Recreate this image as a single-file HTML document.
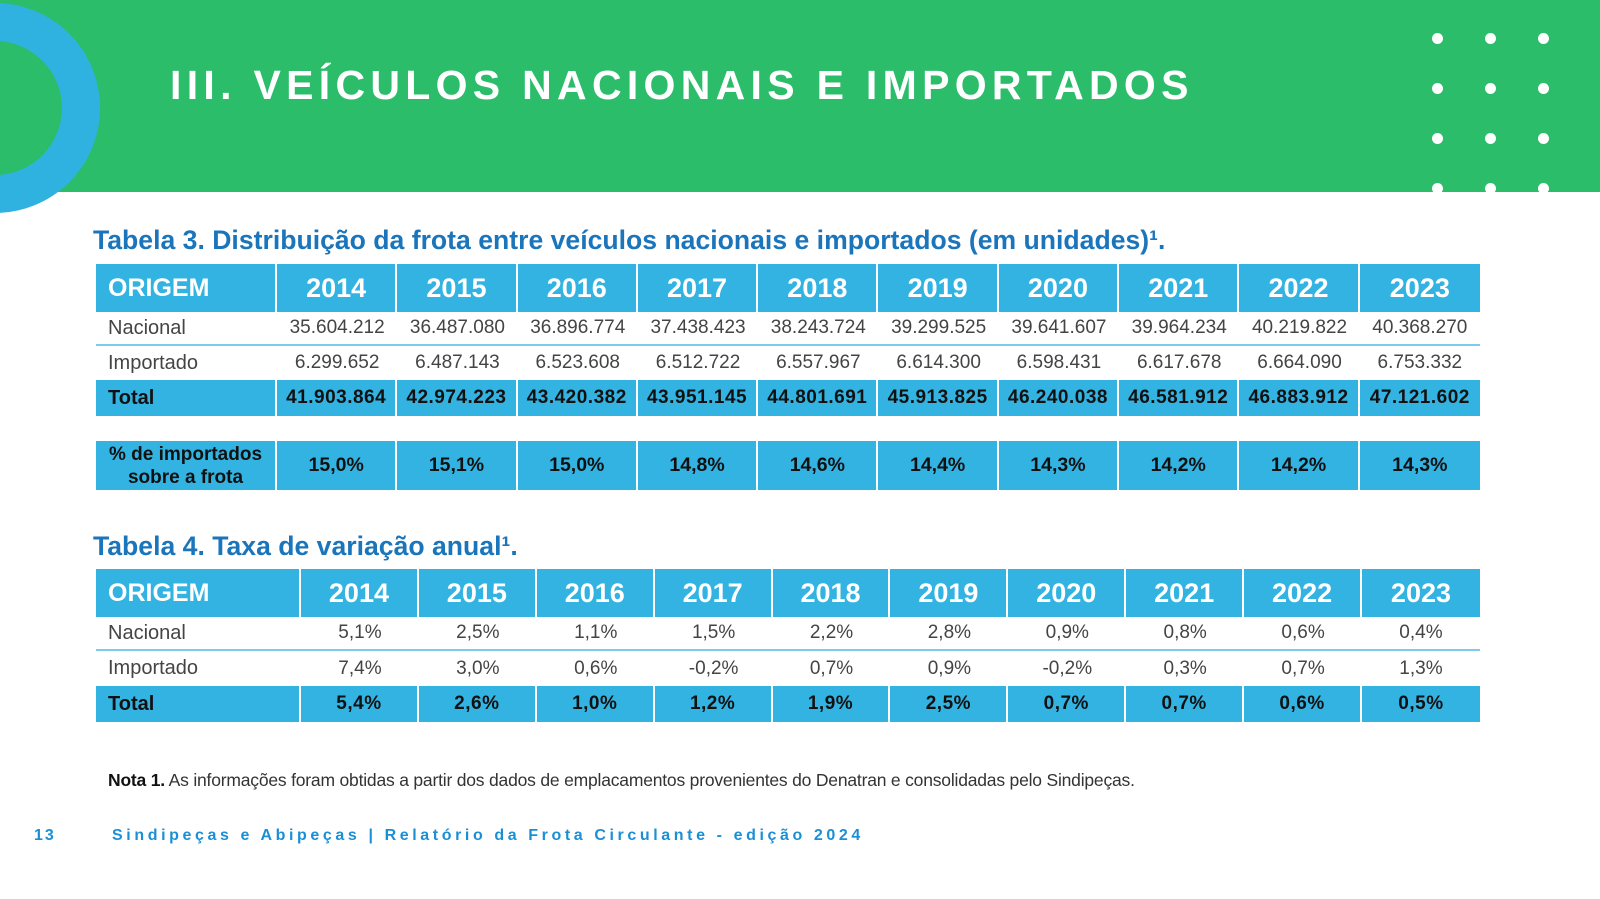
<!DOCTYPE html>
<html><head><meta charset="utf-8"><style>
*{margin:0;padding:0;box-sizing:border-box}
body{width:1600px;height:899px;background:#fff;position:relative;overflow:hidden;font-family:"Liberation Sans",sans-serif}
.band{position:absolute;left:0;top:0;width:1600px;height:192px;background:#2bbd6a}
.ring{position:absolute;left:-110px;top:3px;width:210px;height:210px;border-radius:50%;border:38px solid #30b2e1}
.dot{position:absolute;width:11px;height:11px;border-radius:50%;background:#fff}
.h1{position:absolute;left:170px;top:62px;color:#fff;font-weight:bold;font-size:41px;letter-spacing:5.3px;white-space:nowrap}
.cap{position:absolute;left:93px;color:#1b75bb;font-weight:bold;font-size:26.6px;white-space:nowrap}
.row{position:absolute;left:96px;width:1384px;display:flex}
.row div{display:flex;align-items:center;justify-content:center;white-space:nowrap}
.blue div{background:#33b3e2;border-right:2px solid #fff}
.blue div:last-child{border-right:none}
.hd div{color:#fff;font-weight:bold;font-size:27px}
.hd div:first-child{justify-content:flex-start;padding-left:12px;font-size:25px}
.pl div{color:#444;font-size:19px;border-bottom:2px solid #7dcbee}
.pl div:first-child{justify-content:flex-start;padding-left:12px;font-size:20px}
.tot div{color:#111;font-weight:bold;font-size:19px;letter-spacing:0.5px}
.tot div:first-child{justify-content:flex-start;padding-left:12px;font-size:20px;letter-spacing:0}
.pct div{color:#111;font-weight:bold;font-size:19.5px}
.pct div:first-child{font-size:19px;line-height:23px;text-align:center}
</style></head><body>
<div class="band"></div>
<div class="ring"></div>
<div class="dot" style="left:1432px;top:33px"></div><div class="dot" style="left:1485px;top:33px"></div><div class="dot" style="left:1538px;top:33px"></div>
<div class="dot" style="left:1432px;top:83px"></div><div class="dot" style="left:1485px;top:83px"></div><div class="dot" style="left:1538px;top:83px"></div>
<div class="dot" style="left:1432px;top:133px"></div><div class="dot" style="left:1485px;top:133px"></div><div class="dot" style="left:1538px;top:133px"></div>
<div class="dot" style="left:1432px;top:183px"></div><div class="dot" style="left:1485px;top:183px"></div><div class="dot" style="left:1538px;top:183px"></div>
<div class="h1">III. VEÍCULOS NACIONAIS E IMPORTADOS</div>

<div class="cap" style="top:225px">Tabela 3. Distribuição da frota entre veículos nacionais e importados (em unidades)¹.</div>
<div class="row blue hd" style="top:264px;height:48px"><div style="width:181px">ORIGEM</div><div style="width:120.3px">2014</div><div style="width:120.3px">2015</div><div style="width:120.3px">2016</div><div style="width:120.3px">2017</div><div style="width:120.3px">2018</div><div style="width:120.3px">2019</div><div style="width:120.3px">2020</div><div style="width:120.3px">2021</div><div style="width:120.3px">2022</div><div style="width:120.3px">2023</div></div>
<div class="row pl" style="top:312px;height:34px"><div style="width:181px">Nacional</div><div style="width:120.3px">35.604.212</div><div style="width:120.3px">36.487.080</div><div style="width:120.3px">36.896.774</div><div style="width:120.3px">37.438.423</div><div style="width:120.3px">38.243.724</div><div style="width:120.3px">39.299.525</div><div style="width:120.3px">39.641.607</div><div style="width:120.3px">39.964.234</div><div style="width:120.3px">40.219.822</div><div style="width:120.3px">40.368.270</div></div>
<div class="row pl" style="top:346px;height:34px"><div style="width:181px;border-bottom:none">Importado</div><div style="width:120.3px;border-bottom:none">6.299.652</div><div style="width:120.3px;border-bottom:none">6.487.143</div><div style="width:120.3px;border-bottom:none">6.523.608</div><div style="width:120.3px;border-bottom:none">6.512.722</div><div style="width:120.3px;border-bottom:none">6.557.967</div><div style="width:120.3px;border-bottom:none">6.614.300</div><div style="width:120.3px;border-bottom:none">6.598.431</div><div style="width:120.3px;border-bottom:none">6.617.678</div><div style="width:120.3px;border-bottom:none">6.664.090</div><div style="width:120.3px;border-bottom:none">6.753.332</div></div>
<div class="row blue tot" style="top:380px;height:36px"><div style="width:181px">Total</div><div style="width:120.3px">41.903.864</div><div style="width:120.3px">42.974.223</div><div style="width:120.3px">43.420.382</div><div style="width:120.3px">43.951.145</div><div style="width:120.3px">44.801.691</div><div style="width:120.3px">45.913.825</div><div style="width:120.3px">46.240.038</div><div style="width:120.3px">46.581.912</div><div style="width:120.3px">46.883.912</div><div style="width:120.3px">47.121.602</div></div>
<div class="row blue pct" style="top:441px;height:49px"><div style="width:181px">% de importados<br>sobre a frota</div><div style="width:120.3px">15,0%</div><div style="width:120.3px">15,1%</div><div style="width:120.3px">15,0%</div><div style="width:120.3px">14,8%</div><div style="width:120.3px">14,6%</div><div style="width:120.3px">14,4%</div><div style="width:120.3px">14,3%</div><div style="width:120.3px">14,2%</div><div style="width:120.3px">14,2%</div><div style="width:120.3px">14,3%</div></div>

<div class="cap" style="top:531px">Tabela 4. Taxa de variação anual¹.</div>
<div class="row blue hd" style="top:569px;height:48px"><div style="width:205px">ORIGEM</div><div style="width:117.9px">2014</div><div style="width:117.9px">2015</div><div style="width:117.9px">2016</div><div style="width:117.9px">2017</div><div style="width:117.9px">2018</div><div style="width:117.9px">2019</div><div style="width:117.9px">2020</div><div style="width:117.9px">2021</div><div style="width:117.9px">2022</div><div style="width:117.9px">2023</div></div>
<div class="row pl" style="top:617px;height:34px"><div style="width:205px">Nacional</div><div style="width:117.9px">5,1%</div><div style="width:117.9px">2,5%</div><div style="width:117.9px">1,1%</div><div style="width:117.9px">1,5%</div><div style="width:117.9px">2,2%</div><div style="width:117.9px">2,8%</div><div style="width:117.9px">0,9%</div><div style="width:117.9px">0,8%</div><div style="width:117.9px">0,6%</div><div style="width:117.9px">0,4%</div></div>
<div class="row pl" style="top:651px;height:35px"><div style="width:205px;border-bottom:none">Importado</div><div style="width:117.9px;border-bottom:none">7,4%</div><div style="width:117.9px;border-bottom:none">3,0%</div><div style="width:117.9px;border-bottom:none">0,6%</div><div style="width:117.9px;border-bottom:none">-0,2%</div><div style="width:117.9px;border-bottom:none">0,7%</div><div style="width:117.9px;border-bottom:none">0,9%</div><div style="width:117.9px;border-bottom:none">-0,2%</div><div style="width:117.9px;border-bottom:none">0,3%</div><div style="width:117.9px;border-bottom:none">0,7%</div><div style="width:117.9px;border-bottom:none">1,3%</div></div>
<div class="row blue tot" style="top:686px;height:36px"><div style="width:205px">Total</div><div style="width:117.9px">5,4%</div><div style="width:117.9px">2,6%</div><div style="width:117.9px">1,0%</div><div style="width:117.9px">1,2%</div><div style="width:117.9px">1,9%</div><div style="width:117.9px">2,5%</div><div style="width:117.9px">0,7%</div><div style="width:117.9px">0,7%</div><div style="width:117.9px">0,6%</div><div style="width:117.9px">0,5%</div></div>

<div style="position:absolute;left:108px;top:770px;font-size:17.5px;color:#333;white-space:nowrap;letter-spacing:-0.2px"><b style="color:#111">Nota 1.</b> As informações foram obtidas a partir dos dados de emplacamentos provenientes do Denatran e consolidadas pelo Sindipeças.</div>
<div style="position:absolute;left:34px;top:827px;font-size:16px;color:#1b8fd6;font-weight:bold;letter-spacing:2px">13</div>
<div style="position:absolute;left:112px;top:827px;font-size:16px;color:#1b8fd6;font-weight:bold;letter-spacing:3.6px;white-space:nowrap">Sindipeças e Abipeças | Relatório da Frota Circulante - edição 2024</div>
</body></html>
